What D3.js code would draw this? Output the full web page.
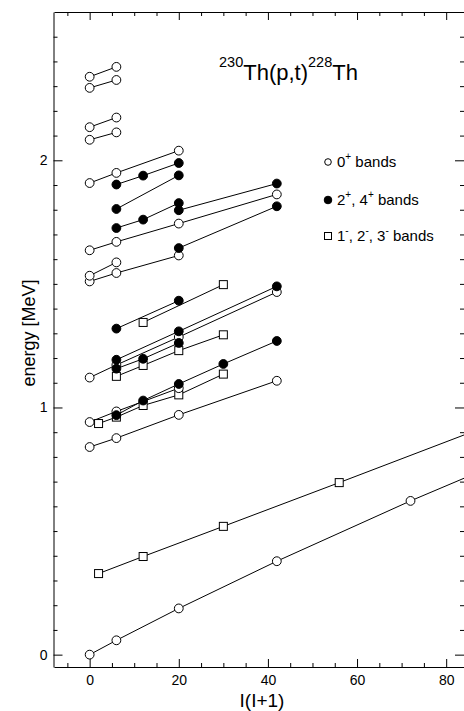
<!DOCTYPE html>
<html>
<head>
<meta charset="utf-8">
<script src="https://cdn.jsdelivr.net/npm/d3@7"></script>
<style>
  html, body { margin: 0; padding: 0; background: #fff; }
  svg { display: block; font-family: "Liberation Sans", Arial, sans-serif; }
</style>
</head>
<body>
<svg id="chart" width="464" height="711"></svg>
<script>
// ---------- DATA ----------
// x = I(I+1), y = energy [MeV]
// 0+ bands (open circles)
const openBandX = [
  [0, 6, 20, 42, 72, 110],
  [0, 6, 20, 42],
  [0, 6, 20],
  [0, 6, 20, 42],
  [0, 6, 20],
  [0, 6],
  [0, 6, 20, 42],
  [0, 6, 20],
  [0, 6],
  [0, 6],
  [0, 6],
  [0, 6]
];
const openBandE = [
  [0.000, 0.058, 0.187, 0.378, 0.622, 0.912],
  [0.840, 0.876, 0.970, 1.108],
  [0.941, 0.984, 1.078],
  [1.121, 1.172, 1.285, 1.467],
  [1.510, 1.544, 1.615],
  [1.533, 1.587],
  [1.636, 1.670, 1.744, 1.862],
  [1.908, 1.949, 2.039],
  [2.083, 2.113],
  [2.134, 2.173],
  [2.293, 2.325],
  [2.338, 2.378]
];
// 2+, 4+ bands (filled circles)
const filledBandX = [
  [6, 12, 20, 30, 42],
  [6, 12, 20],
  [6, 20, 42],
  [6, 20],
  [20, 42],
  [6, 12, 20],
  [20, 42],
  [6, 20],
  [6, 12, 20]
];
const filledBandE = [
  [0.969, 1.028, 1.095, 1.176, 1.269],
  [1.157, 1.197, 1.261],
  [1.193, 1.308, 1.490],
  [1.319, 1.432],
  [1.645, 1.814],
  [1.726, 1.760, 1.827],
  [1.798, 1.906],
  [1.803, 1.939],
  [1.902, 1.938, 1.989]
];
// 1-, 2-, 3- bands (open squares)
const squareBandX = [
  [2, 12, 30, 56, 90],
  [2, 6, 12, 20, 30],
  [6, 12, 20, 30],
  [12, 30]
];
const squareBandE = [
  [0.328, 0.397, 0.519, 0.696, 0.930],
  [0.935, 0.961, 1.008, 1.051, 1.135],
  [1.126, 1.170, 1.230, 1.294],
  [1.344, 1.497]
];

const xMajorTicks = [0, 20, 40, 60, 80];
const yMajorTicks = [0, 1, 2];
const xLabel = "I(I+1)";
const yLabel = "energy [MeV]";
const legendLabels = [
  {base: ["0"], sups: ["+"], tail: " bands"},
  {base: ["2", ", 4"], sups: ["+", "+"], tail: " bands"},
  {base: ["1", ", 2", ", 3"], sups: ["-", "-", "-"], tail: " bands"}
];

// ---------- LAYOUT ----------
const pLeft = 54, pRight = 464, pTop = 12, pBottom = 667;
const svg = d3.select("#chart");

const x = d3.scaleLinear().domain([-8, 84]).range([pLeft, pRight]);
const y = d3.scaleLinear().domain([-0.05, 2.6]).range([pBottom, pTop]);

const xMinor = d3.range(-5, 85, 5).filter(v => v % 20 !== 0);
const yMinor = d3.range(0, 2.6, 0.1).map(v => +v.toFixed(1)).filter(v => Math.abs(v - Math.round(v)) > 1e-6);

// clip
svg.append("clipPath").attr("id", "clip")
  .append("rect").attr("x", pLeft).attr("y", pTop).attr("width", pRight - pLeft).attr("height", pBottom - pTop);

// ---------- AXES ----------
function styleAxis(g) {
  g.selectAll("path").attr("stroke", "#000");
  g.selectAll("line").attr("stroke", "#000");
  g.selectAll("text").attr("fill", "#000").style("font-size", "14px")
    .style("font-family", "'Liberation Sans', Arial, sans-serif");
}

// bottom
svg.append("g").attr("transform", `translate(0,${pBottom})`)
  .call(d3.axisBottom(x).tickValues(xMajorTicks).tickSizeInner(-8).tickSizeOuter(0).tickPadding(8).tickFormat(d3.format("d")))
  .call(styleAxis);
svg.append("g").attr("transform", `translate(0,${pBottom})`)
  .call(d3.axisBottom(x).tickValues(xMinor).tickSizeInner(-4).tickSizeOuter(0).tickFormat(""))
  .call(styleAxis).call(g => g.select("path").remove());
// top
svg.append("g").attr("transform", `translate(0,${pTop})`)
  .call(d3.axisTop(x).tickValues(xMajorTicks).tickSizeInner(-8).tickSizeOuter(0).tickFormat(""))
  .call(styleAxis);
svg.append("g").attr("transform", `translate(0,${pTop})`)
  .call(d3.axisTop(x).tickValues(xMinor).tickSizeInner(-4).tickSizeOuter(0).tickFormat(""))
  .call(styleAxis).call(g => g.select("path").remove());
// left
svg.append("g").attr("transform", `translate(${pLeft - 0.5},0)`)
  .call(d3.axisLeft(y).tickValues(yMajorTicks).tickSizeInner(-9).tickSizeOuter(0).tickPadding(6).tickFormat(d3.format("d")))
  .call(styleAxis);
svg.append("g").attr("transform", `translate(${pLeft - 0.5},0)`)
  .call(d3.axisLeft(y).tickValues(yMinor).tickSizeInner(-4).tickSizeOuter(0).tickFormat(""))
  .call(styleAxis).call(g => g.select("path").remove());
// right
svg.append("g").attr("transform", `translate(${pRight},0)`)
  .call(d3.axisRight(y).tickValues(yMajorTicks).tickSizeInner(-9).tickSizeOuter(0).tickFormat(""))
  .call(styleAxis);
svg.append("g").attr("transform", `translate(${pRight},0)`)
  .call(d3.axisRight(y).tickValues(yMinor).tickSizeInner(-4).tickSizeOuter(0).tickFormat(""))
  .call(styleAxis).call(g => g.select("path").remove());

// axis titles
svg.append("text").attr("x", 262).attr("y", 707).attr("text-anchor", "middle")
  .style("font-size", "19px").text(xLabel);
svg.append("text").attr("transform", "translate(35,333) rotate(-90)").attr("text-anchor", "middle")
  .style("font-size", "18px").text(yLabel);

// ---------- DATA MARKS ----------
const plot = svg.append("g").attr("clip-path", "url(#clip)");
const line = d3.line().x(d => x(d[0])).y(d => y(d[1]));

function bands(xs, es) { return xs.map((arr, i) => arr.map((v, j) => [v, es[i][j]])); }
const openBands = bands(openBandX, openBandE);
const filledBands = bands(filledBandX, filledBandE);
const squareBands = bands(squareBandX, squareBandE);

[...openBands, ...filledBands, ...squareBands].forEach(b => {
  plot.append("path").datum(b).attr("d", line)
    .attr("fill", "none").attr("stroke", "#000").attr("stroke-width", 1);
});

const R = 4.4, S = 8;
squareBands.flat().forEach(d => {
  plot.append("rect").attr("x", x(d[0]) - S / 2).attr("y", y(d[1]) - S / 2)
    .attr("width", S).attr("height", S).attr("fill", "#fff").attr("stroke", "#000").attr("stroke-width", 1);
});
openBands.flat().forEach(d => {
  plot.append("circle").attr("cx", x(d[0])).attr("cy", y(d[1])).attr("r", R)
    .attr("fill", "#fff").attr("stroke", "#000").attr("stroke-width", 1);
});
filledBands.flat().forEach(d => {
  plot.append("circle").attr("cx", x(d[0])).attr("cy", y(d[1])).attr("r", R)
    .attr("fill", "#000").attr("stroke", "#000").attr("stroke-width", 1);
});

// ---------- TITLE ----------
const title = svg.append("text").attr("x", 219).attr("y", 80).style("font-size", "22px");
title.append("tspan").style("font-size", "14.5px").attr("dy", -13).text("230");
title.append("tspan").attr("dy", 13).text("Th(p,t)");
title.append("tspan").style("font-size", "14.5px").attr("dy", -13).text("228");
title.append("tspan").attr("dy", 13).text("Th");

// ---------- LEGEND ----------
const legY = [162, 200, 236];
const legSymX = 328, legTextX = 337;
svg.append("circle").attr("cx", legSymX).attr("cy", legY[0]).attr("r", 3.3)
  .attr("fill", "#fff").attr("stroke", "#000").attr("stroke-width", 1);
svg.append("circle").attr("cx", legSymX).attr("cy", legY[1]).attr("r", 3.8)
  .attr("fill", "#000").attr("stroke", "#000").attr("stroke-width", 1);
svg.append("rect").attr("x", legSymX - 3.5).attr("y", legY[2] - 3.5).attr("width", 7).attr("height", 7)
  .attr("fill", "#fff").attr("stroke", "#000").attr("stroke-width", 1);

legendLabels.forEach((lab, i) => {
  const t = svg.append("text").attr("x", legTextX).attr("y", legY[i] + 5).style("font-size", "15px");
  lab.base.forEach((b, k) => {
    t.append("tspan").attr("dy", k === 0 ? 0 : 7).text(b);
    t.append("tspan").style("font-size", "10px").attr("dy", -7).text(lab.sups[k]);
  });
  t.append("tspan").attr("dy", 7).text(lab.tail);
});
</script>
</body>
</html>
